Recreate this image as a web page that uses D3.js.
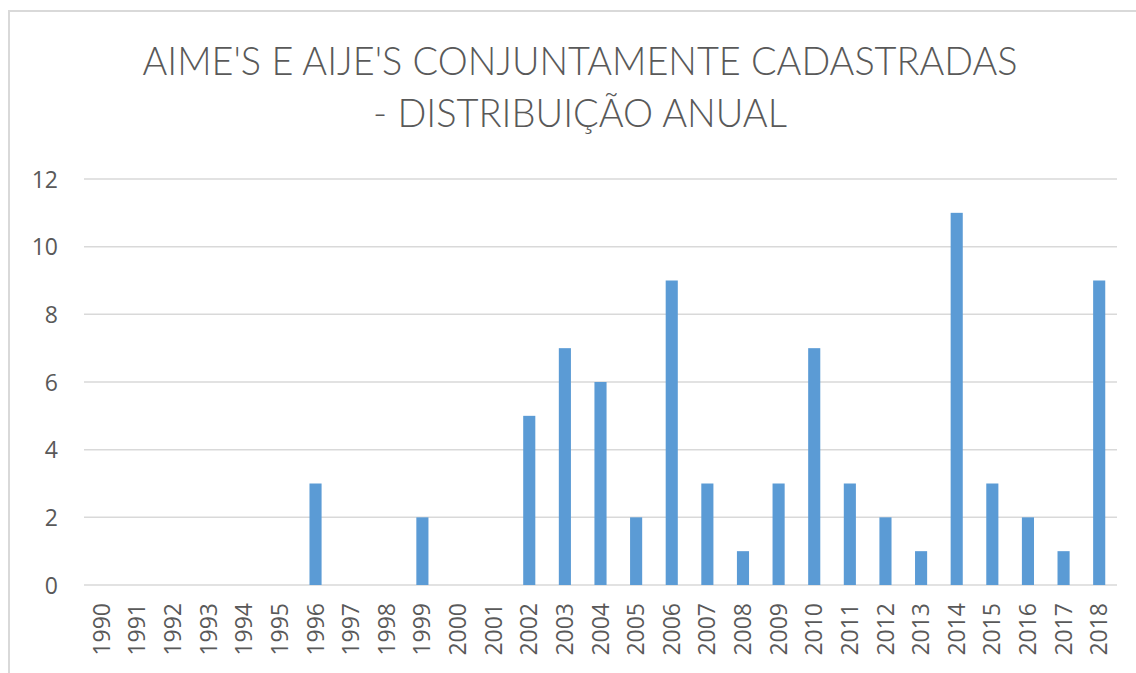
<!DOCTYPE html>
<html>
<head>
<meta charset="utf-8">
<script src="https://cdn.jsdelivr.net/npm/d3@7"></script>
<style>
  body { margin: 0; background: #fff; }
  text { font-family: "Open Sans", sans-serif; fill: #595959; }
  .title { font-family: Lato, "Open Sans", sans-serif; font-weight: 300; }
</style>
</head>
<body>
<div class="canvas"></div>
<script>
// data
const years = ["1990","1991","1992","1993","1994","1995","1996","1997","1998","1999",
  "2000","2001","2002","2003","2004","2005","2006","2007","2008","2009",
  "2010","2011","2012","2013","2014","2015","2016","2017","2018"];
const counts = [0,0,0,0,0,0,3,0,0,2, 0,0,5,7,6,2,9,3,1,3, 7,3,2,1,11,3,2,1,9];
const yTicks = [0,2,4,6,8,10,12];
const titleLines = ["AIME'S E AIJE'S CONJUNTAMENTE CADASTRADAS", "- DISTRIBUIÇÃO ANUAL"];

const dims = {width: 1136, height: 673};
const plot = {left: 84, right: 1117, top: 179, bottom: 585};

const svg = d3.select(".canvas").append("svg")
    .attr("width", dims.width)
    .attr("height", dims.height);

// chart frame (only top and left edges show in the picture)
svg.append("path")
    .attr("d", `M9,${dims.height} V11 H${dims.width}`)
    .attr("fill", "none")
    .attr("stroke", "#d9d9d9")
    .attr("stroke-width", 2);

// title
const titleWidths = [875, 414];
svg.selectAll(".title")
  .data(titleLines)
  .enter().append("text")
    .attr("class", "title")
    .attr("x", 580)
    .attr("y", (d, i) => 75 + i * 52)
    .attr("text-anchor", "middle")
    .attr("font-size", 39)
    .attr("textLength", (d, i) => titleWidths[i])
    .attr("lengthAdjust", "spacingAndGlyphs")
    .text(d => d);

const x = d3.scaleBand()
    .domain(years)
    .range([plot.left, plot.right])
    .paddingInner(0.66)
    .paddingOuter(0.33);

const y = d3.scaleLinear()
    .domain([0, 12])
    .range([plot.bottom, plot.top]);

// gridlines
svg.append("g")
  .selectAll("line")
  .data(yTicks)
  .enter().append("line")
    .attr("x1", plot.left)
    .attr("x2", plot.right)
    .attr("y1", d => y(d))
    .attr("y2", d => y(d))
    .attr("stroke", "#d9d9d9")
    .attr("stroke-width", 1.5);

// y labels
const yAxis = svg.append("g")
    .attr("transform", `translate(${plot.left - 26},0)`)
    .call(d3.axisLeft(y).tickValues(yTicks).tickSize(0).tickPadding(0));
yAxis.select(".domain").remove();
yAxis.selectAll("text")
    .attr("font-size", 23)
    .attr("font-family", "Open Sans, sans-serif")
    .attr("fill", "#595959")
    .attr("dy", "0.35em");

// bars
svg.append("g")
  .selectAll("rect")
  .data(counts)
  .enter().append("rect")
    .attr("x", (d, i) => x(years[i]))
    .attr("y", d => y(d))
    .attr("width", x.bandwidth())
    .attr("height", d => y(0) - y(d))
    .attr("fill", "#5b9bd5");

// x labels, rotated
const xAxis = svg.append("g")
    .attr("transform", `translate(0,${plot.bottom})`)
    .call(d3.axisBottom(x).tickSize(0).tickPadding(0));
xAxis.select(".domain").remove();
xAxis.selectAll("text")
    .attr("font-size", 23)
    .attr("font-family", "Open Sans, sans-serif")
    .attr("fill", "#595959")
    .attr("text-anchor", "end")
    .attr("transform", "rotate(-90)")
    .attr("x", -18)
    .attr("y", 0)
    .attr("dy", "0.35em");
</script>
</body>
</html>
